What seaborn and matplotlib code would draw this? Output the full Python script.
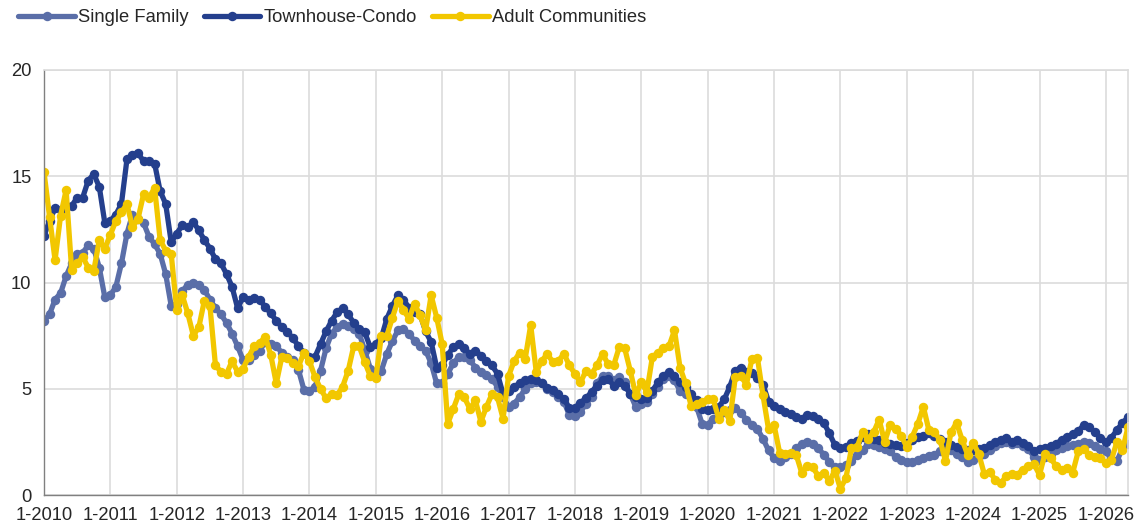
import seaborn as sns
import matplotlib.pyplot as plt
from matplotlib.lines import Line2D
import pandas as pd

# -------------------
# Data (months of supply, monthly, Jan 2010 - May 2026)
# -------------------
single_family = [
    8.2, 8.5, 9.2, 9.5, 10.3, 10.9, 11.35, 11.4, 11.75, 11.6, 10.7, 9.3,      # 2010
    9.4, 9.8, 10.9, 12.3, 13.2, 13.0, 12.8, 12.15, 11.8, 11.35, 10.4, 8.9,    # 2011
    9.0, 9.6, 9.9, 10.0, 9.9, 9.65, 9.2, 8.8, 8.5, 8.1, 7.6, 7.0,             # 2012
    6.35, 6.35, 6.6, 6.8, 7.2, 7.1, 7.0, 6.7, 6.5, 6.35, 5.9, 4.95,           # 2013
    4.9, 5.1, 5.85, 6.9, 7.6, 7.9, 8.05, 7.95, 7.8, 7.6, 6.8, 5.95,           # 2014
    5.55, 5.85, 6.65, 7.25, 7.75, 7.8, 7.6, 7.25, 7.0, 6.8, 6.2, 5.25,        # 2015
    5.25, 5.7, 6.2, 6.5, 6.5, 6.35, 6.0, 5.8, 5.65, 5.45, 5.1, 4.6,           # 2016
    4.15, 4.3, 4.6, 5.0, 5.25, 5.3, 5.25, 5.0, 4.85, 4.6, 4.4, 3.75,          # 2017
    3.7, 3.9, 4.3, 4.6, 5.25, 5.6, 5.6, 5.4, 5.55, 5.3, 4.75, 4.15,           # 2018
    4.3, 4.4, 4.75, 5.1, 5.45, 5.6, 5.4, 4.9, 4.75, 4.6, 4.15, 3.35,          # 2019
    3.3, 3.6, 3.75, 3.9, 4.0, 4.1, 3.85, 3.55, 3.3, 3.1, 2.65, 2.1,           # 2020
    1.75, 1.6, 1.8, 1.95, 2.2, 2.4, 2.5, 2.4, 2.2, 1.9, 1.55, 1.3,            # 2021
    1.3, 1.4, 1.6, 1.9, 2.1, 2.4, 2.35, 2.25, 2.15, 2.05, 1.8, 1.65,          # 2022
    1.55, 1.55, 1.65, 1.75, 1.85, 1.9, 2.05, 2.15, 2.1, 1.95, 1.8, 1.55,      # 2023
    1.65, 1.85, 1.95, 2.1, 2.3, 2.45, 2.5, 2.4, 2.45, 2.3, 2.15, 1.8,         # 2024
    1.65, 1.8, 1.95, 2.1, 2.2, 2.3, 2.35, 2.4, 2.5, 2.45, 2.3, 2.15,          # 2025
    2.05, 1.7, 1.6, 2.2, 2.4,                                                 # 2026
]
townhouse_condo = [
    12.2, 12.9, 13.5, 13.4, 13.6, 13.6, 14.0, 14.0, 14.8, 15.1, 14.5, 12.8,
    12.9, 13.2, 13.7, 15.8, 16.0, 16.1, 15.7, 15.7, 15.6, 14.3, 13.7, 11.9,
    12.3, 12.7, 12.6, 12.85, 12.45, 12.0, 11.6, 11.1, 10.9, 10.4, 9.8, 8.8,
    9.3, 9.2, 9.25, 9.2, 8.85, 8.55, 8.2, 7.9, 7.65, 7.4, 7.0, 6.7,
    6.5, 6.5, 7.1, 7.7, 8.2, 8.6, 8.8, 8.5, 8.1, 7.8, 7.65, 6.95,
    7.1, 7.4, 8.3, 8.9, 9.4, 9.2, 8.8, 8.6, 8.5, 7.7, 7.2, 6.0,
    6.1, 6.6, 6.95, 7.1, 6.9, 6.65, 6.8, 6.55, 6.3, 6.1, 5.7, 4.75,
    4.9, 5.1, 5.25, 5.4, 5.45, 5.4, 5.25, 5.05, 4.95, 4.75, 4.5, 4.1,
    4.1, 4.35, 4.55, 4.85, 5.15, 5.4, 5.45, 5.15, 5.3, 5.15, 4.75, 4.6,
    4.5, 4.55, 4.9, 5.3, 5.6, 5.8, 5.6, 5.3, 5.1, 4.75, 4.45, 4.05,
    4.0, 4.05, 4.15, 4.5, 5.1, 5.85, 6.0, 5.8, 5.75, 5.5, 5.2, 4.4,
    4.2, 4.05, 3.9, 3.8, 3.65, 3.6, 3.75, 3.7, 3.6, 3.4, 2.9, 2.35,
    2.2, 2.25, 2.45, 2.55, 2.75, 2.85, 2.65, 2.6, 2.45, 2.4, 2.35, 2.3,
    2.45, 2.6, 2.75, 2.8, 2.9, 2.8, 2.65, 2.5, 2.35, 2.25, 2.15, 2.1,
    2.1, 2.15, 2.2, 2.35, 2.5, 2.6, 2.7, 2.5, 2.6, 2.45, 2.3, 2.05,
    2.15, 2.2, 2.3, 2.4, 2.6, 2.75, 2.85, 3.0, 3.3, 3.2, 2.95, 2.7,
    2.5, 2.7, 3.05, 3.4, 3.65,
]
adult_communities = [
    15.2, 13.1, 11.05, 13.15, 14.35, 10.6, 10.9, 11.2, 10.7, 10.55, 12.0, 11.6,
    12.25, 12.9, 13.3, 13.7, 12.6, 13.0, 14.15, 14.0, 14.45, 12.0, 11.5, 11.35,
    8.7, 9.4, 8.55, 7.5, 7.9, 9.15, 8.9, 6.1, 5.8, 5.7, 6.3, 5.8,
    5.95, 6.5, 7.0, 7.15, 7.45, 6.6, 5.25, 6.5, 6.45, 6.2, 6.05, 6.7,
    6.3, 5.55, 5.0, 4.55, 4.75, 4.7, 5.1, 5.85, 7.0, 7.0, 6.25, 5.6,
    5.5, 7.5, 7.5, 8.35, 9.15, 8.7, 8.3, 9.0, 8.45, 7.75, 9.4, 8.35,
    7.1, 3.35, 4.05, 4.75, 4.6, 4.05, 4.45, 3.45, 4.15, 4.75, 4.6, 3.6,
    5.6, 6.3, 6.7, 6.4, 8.0, 5.8, 6.3, 6.65, 6.25, 6.3, 6.65, 6.1,
    5.7, 5.3, 5.85, 5.7, 6.1, 6.65, 6.15, 6.1, 6.95, 6.9, 5.85, 4.7,
    5.3, 4.85, 6.5, 6.7, 6.9, 7.0, 7.75, 6.0, 5.25, 4.2, 4.3, 4.4,
    4.5, 4.5, 3.6, 4.0, 3.5, 5.55, 5.6, 5.2, 6.4, 6.45, 4.7, 3.1,
    3.3, 2.0, 1.95, 2.0, 1.9, 1.05, 1.35, 1.3, 0.9, 1.05, 0.65, 1.15,
    0.3, 0.8, 2.2, 2.25, 2.95, 2.65, 2.95, 3.55, 2.5, 3.3, 3.1, 2.8,
    2.25, 2.75, 3.35, 4.15, 3.05, 2.95, 2.6, 1.6, 2.95, 3.4, 2.6, 1.9,
    2.45, 1.95, 1.0, 1.1, 0.7, 0.55, 0.9, 1.0, 0.95, 1.2, 1.35, 1.45,
    0.95, 1.95, 1.75, 1.35, 1.2, 1.25, 1.05, 2.05, 2.15, 1.9, 1.8, 1.75,
    1.5, 1.65, 2.5, 2.1, 3.2,
]

series_names = ["Single Family", "Townhouse-Condo", "Adult Communities"]
colors = {"Single Family": "#5a6ea8",
          "Townhouse-Condo": "#243f8d",
          "Adult Communities": "#f2c700"}
years = list(range(2010, 2027))
tick_labels = [f"1-{y}" for y in years]

n = len(single_family)
frames = []
for name, vals in zip(series_names, [single_family, townhouse_condo, adult_communities]):
    frames.append(pd.DataFrame({"month": range(n), "value": vals, "series": name}))
df = pd.concat(frames, ignore_index=True)

# -------------------
# Styling
# -------------------
sns.set_style("white")
plt.rcParams["font.family"] = ["Liberation Sans", "DejaVu Sans"]
FS = 13.2

fig = plt.figure(figsize=(11.34, 5.30), dpi=100)
ax = fig.add_axes([44 / 1134, 1 - 495 / 530, (1128 - 44) / 1134, (495 - 70) / 530])

sns.lineplot(data=df, x="month", y="value", hue="series", hue_order=series_names,
             palette=colors, marker="o", markersize=6.8, markeredgewidth=0,
             linewidth=3.8, legend=False, ax=ax)

ax.set_xlim(0, n - 1)
ax.set_ylim(0, 20)
ax.set_yticks([0, 5, 10, 15, 20])
ax.set_xticks(range(0, n, 12))
ax.set_xticklabels(tick_labels)
ax.set_xlabel("")
ax.set_ylabel("")
ax.grid(True, color="#dcdcdc", linewidth=1.2)
ax.set_axisbelow(True)
ax.tick_params(axis="both", direction="out", length=5, width=1, color="#808080",
               labelsize=FS, pad=4)
for side in ["left", "bottom"]:
    ax.spines[side].set_color("#808080")
    ax.spines[side].set_linewidth(1)
for side in ["top", "right"]:
    ax.spines[side].set_color("#dcdcdc")
    ax.spines[side].set_linewidth(1.2)

handles = [Line2D([], [], color=colors[s], linewidth=3.8, marker="o",
                  markersize=6.8, markeredgewidth=0) for s in series_names]
fig.legend(handles, series_names, loc="upper left", bbox_to_anchor=(0.008, 1.0),
           ncol=3, frameon=False, fontsize=FS, handlelength=3.1,
           handletextpad=0.18, columnspacing=0.8, numpoints=1,
           borderaxespad=0.1)

plt.savefig("out.png", dpi=100)
plt.close()
